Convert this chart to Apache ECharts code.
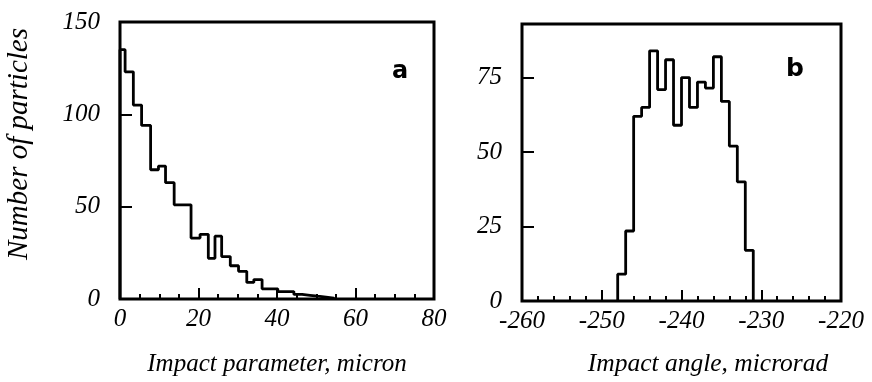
<!DOCTYPE html>
<html><head><meta charset="utf-8">
<script src="https://cdn.jsdelivr.net/npm/echarts@6/dist/echarts.min.js"></script>
<style>html,body{margin:0;padding:0;background:#fff}#c{width:872px;height:382px}</style>
</head><body><div id="c"></div>
<script>
// Panel a: impact parameter (micron) histogram — bin edges and counts
const leftEdges = [0, 1.3, 3.4, 5.5, 7.8, 9.8, 11.6, 13.8, 16.0, 18.1, 20.4, 22.5, 24.2, 25.9, 28.1, 30.2, 32.3, 34.1, 36.2, 38.2, 40.2, 42.3, 44.3, 46.4, 48.4, 50.4, 52.5, 54.5];
const leftCounts = [135, 123, 105, 94, 70, 72, 63, 51, 51, 33, 35, 22, 34, 23, 18, 15, 9, 10.5, 5.5, 5.5, 4, 4, 2.5, 2, 1.5, 1, 0.5];
// Panel b: impact angle (microrad) histogram
const rightEdges = [-248, -247, -246, -245, -244, -243, -242, -241, -240, -239, -238, -237, -236, -235, -234, -233, -232, -231];
const rightCounts = [9, 23.5, 62, 65, 84, 71, 81, 59, 75, 65, 73.5, 71.5, 82, 67, 52, 40, 17];
// Axis tick values
const leftXTicks = [0, 20, 40, 60, 80];
const leftYTicks = [0, 50, 100, 150];
const rightXTicks = [-260, -250, -240, -230, -220];
const rightYTicks = [0, 25, 50, 75];
const rightYMax = 93;

function stepPoints(edges, counts) {
  const pts = [[edges[0], 0]];
  for (let i = 0; i < counts.length; i++) {
    pts.push([edges[i], counts[i]]);
    pts.push([edges[i + 1], counts[i]]);
  }
  pts.push([edges[edges.length - 1], 0]);
  return pts;
}

const FONT = 'Liberation Serif';
const labelStyle = { fontFamily: FONT, fontStyle: 'italic', fontSize: 25, color: '#000' };
const tickStyle = { color: '#000', width: 2 };

function xAxis(gi, ticks, minorSplit) {
  return {
    type: 'value', gridIndex: gi,
    min: ticks[0], max: ticks[ticks.length - 1], interval: ticks[1] - ticks[0],
    axisLine: { show: false },
    axisTick: { show: true, inside: true, length: 11, lineStyle: tickStyle },
    minorTick: { show: true, splitNumber: minorSplit, length: 5, lineStyle: tickStyle },
    splitLine: { show: false },
    axisLabel: Object.assign({ margin: 8 }, labelStyle)
  };
}
function yAxis(gi, ticks, max) {
  return {
    type: 'value', gridIndex: gi,
    min: ticks[0], max: max, interval: ticks[1] - ticks[0],
    axisLine: { show: false },
    axisTick: { show: true, inside: true, length: 12, lineStyle: tickStyle },
    splitLine: { show: false },
    axisLabel: Object.assign({ margin: 20, showMaxLabel: max === ticks[ticks.length - 1] }, labelStyle)
  };
}

const chart = echarts.init(document.getElementById('c'), null, { renderer: 'canvas' });
chart.setOption({
  backgroundColor: '#fff',
  animation: false,
  grid: [
    { left: 120, top: 22, width: 314, height: 277, show: true, borderColor: '#000', borderWidth: 3, backgroundColor: 'transparent' },
    { left: 522, top: 24, width: 319, height: 277, show: true, borderColor: '#000', borderWidth: 3, backgroundColor: 'transparent' }
  ],
  xAxis: [xAxis(0, leftXTicks, 4), xAxis(1, rightXTicks, 5)],
  yAxis: [yAxis(0, leftYTicks, leftYTicks[leftYTicks.length - 1]), yAxis(1, rightYTicks, rightYMax)],
  series: [
    { type: 'line', xAxisIndex: 0, yAxisIndex: 0, data: stepPoints(leftEdges, leftCounts), showSymbol: false, lineStyle: { color: '#000', width: 2.8 }, z: 5 },
    { type: 'line', xAxisIndex: 1, yAxisIndex: 1, data: stepPoints(rightEdges, rightCounts), showSymbol: false, lineStyle: { color: '#000', width: 2.8 }, z: 5 }
  ],
  graphic: [
    { type: 'text', x: 277, y: 364, style: { text: 'Impact parameter, micron', font: 'italic 25px "Liberation Serif"', fill: '#000', align: 'center', verticalAlign: 'middle' } },
    { type: 'text', x: 708, y: 364, style: { text: 'Impact angle, microrad', font: 'italic 25.5px "Liberation Serif"', fill: '#000', align: 'center', verticalAlign: 'middle' } },
    { type: 'text', x: 19, y: 144, rotation: Math.PI / 2, style: { text: 'Number of particles', font: 'italic 29px "Liberation Serif"', fill: '#000', align: 'center', verticalAlign: 'middle' } },
    { type: 'text', left: 392, top: 60, style: { text: 'a', font: 'bold 24px "DejaVu Sans"', fill: '#000' } },
    { type: 'text', left: 786, top: 57, style: { text: 'b', font: 'bold 25px "DejaVu Sans"', fill: '#000' } }
  ]
});
</script>
</body></html>
